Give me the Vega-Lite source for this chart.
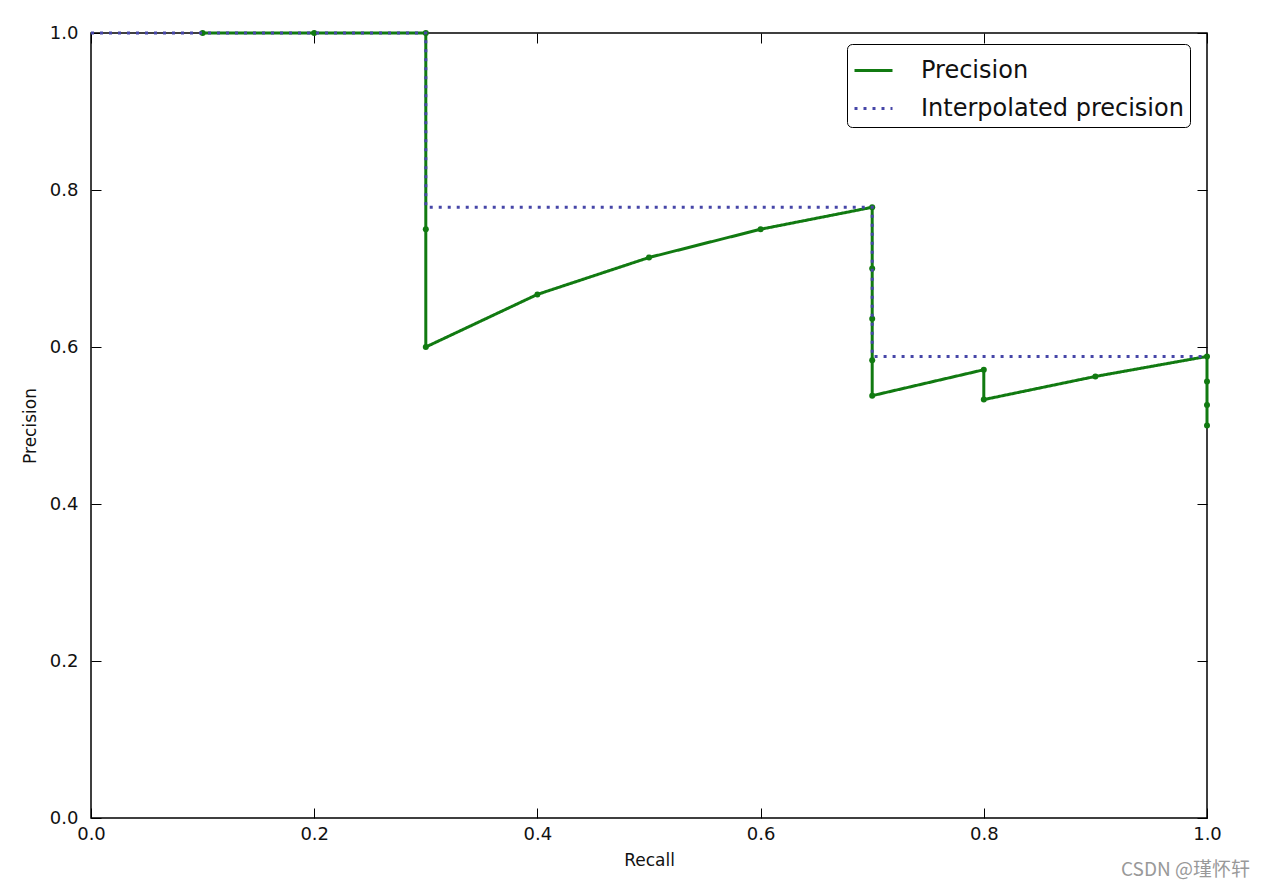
{
  "$schema": "https://vega.github.io/schema/vega-lite/v6.json",
  "width": 1116,
  "height": 785,
  "autosize": {"type": "none"},
  "padding": {"left": 91, "top": 33, "right": 59, "bottom": 70},
  "background": "white",
  "config": {
    "font": "DejaVu Sans",
    "view": {"stroke": "black", "strokeWidth": 1.5},
    "axis": {
      "domain": false,
      "grid": false,
      "tickSize": -10,
      "tickColor": "black",
      "tickWidth": 1,
      "labelFlush": false,
      "labelFontSize": 18,
      "labelColor": "#111",
      "titleFontSize": 17,
      "titleFontWeight": "normal",
      "titleColor": "#111"
    }
  },
  "title": {
    "text": "CSDN @瑾怀轩",
    "orient": "bottom",
    "anchor": "end",
    "frame": "group",
    "font": "Noto Sans CJK SC",
    "fontSize": 19,
    "fontWeight": "normal",
    "color": "#999999",
    "dx": 43,
    "offset": -7
  },
  "data": {
    "values": [
      {"series": "Precision", "k": 1, "recall": 0.1, "precision": 1.0},
      {"series": "Precision", "k": 2, "recall": 0.2, "precision": 1.0},
      {"series": "Precision", "k": 3, "recall": 0.3, "precision": 1.0},
      {"series": "Precision", "k": 4, "recall": 0.3, "precision": 0.75},
      {"series": "Precision", "k": 5, "recall": 0.3, "precision": 0.6},
      {"series": "Precision", "k": 6, "recall": 0.4, "precision": 0.667},
      {"series": "Precision", "k": 7, "recall": 0.5, "precision": 0.714},
      {"series": "Precision", "k": 8, "recall": 0.6, "precision": 0.75},
      {"series": "Precision", "k": 9, "recall": 0.7, "precision": 0.778},
      {"series": "Precision", "k": 10, "recall": 0.7, "precision": 0.7},
      {"series": "Precision", "k": 11, "recall": 0.7, "precision": 0.636},
      {"series": "Precision", "k": 12, "recall": 0.7, "precision": 0.583},
      {"series": "Precision", "k": 13, "recall": 0.7, "precision": 0.538},
      {"series": "Precision", "k": 14, "recall": 0.8, "precision": 0.571},
      {"series": "Precision", "k": 15, "recall": 0.8, "precision": 0.533},
      {"series": "Precision", "k": 16, "recall": 0.9, "precision": 0.5625},
      {"series": "Precision", "k": 17, "recall": 1.0, "precision": 0.588},
      {"series": "Precision", "k": 18, "recall": 1.0, "precision": 0.556},
      {"series": "Precision", "k": 19, "recall": 1.0, "precision": 0.526},
      {"series": "Precision", "k": 20, "recall": 1.0, "precision": 0.5},
      {"series": "Interpolated precision", "k": 1, "recall": 0.0, "precision": 1.0},
      {"series": "Interpolated precision", "k": 2, "recall": 0.1, "precision": 1.0},
      {"series": "Interpolated precision", "k": 3, "recall": 0.2, "precision": 1.0},
      {"series": "Interpolated precision", "k": 4, "recall": 0.3, "precision": 1.0},
      {"series": "Interpolated precision", "k": 5, "recall": 0.3, "precision": 0.778},
      {"series": "Interpolated precision", "k": 6, "recall": 0.4, "precision": 0.778},
      {"series": "Interpolated precision", "k": 7, "recall": 0.5, "precision": 0.778},
      {"series": "Interpolated precision", "k": 8, "recall": 0.6, "precision": 0.778},
      {"series": "Interpolated precision", "k": 9, "recall": 0.7, "precision": 0.778},
      {"series": "Interpolated precision", "k": 10, "recall": 0.7, "precision": 0.588},
      {"series": "Interpolated precision", "k": 11, "recall": 0.8, "precision": 0.588},
      {"series": "Interpolated precision", "k": 12, "recall": 0.9, "precision": 0.588},
      {"series": "Interpolated precision", "k": 13, "recall": 1.0, "precision": 0.588}
    ]
  },
  "layer": [
    {
      "transform": [{"filter": "datum.series === 'Precision'"}],
      "mark": {"type": "line", "strokeWidth": 3},
      "encoding": {
        "x": {"field": "recall", "type": "quantitative", "scale": {"domain": [0, 1], "nice": false}, "title": "Recall", "axis": {"orient": "bottom", "values": [0, 0.2, 0.4, 0.6, 0.8, 1.0], "format": ".1f", "labelPadding": 17, "titlePadding": 9}},
        "y": {"field": "precision", "type": "quantitative", "scale": {"domain": [0, 1], "nice": false}, "title": "Precision", "axis": {"orient": "left", "values": [0, 0.2, 0.4, 0.6, 0.8, 1.0], "format": ".1f", "labelPadding": 23, "titlePadding": 10}},
        "order": {"field": "k"},
        "color": {"field": "series", "type": "nominal", "scale": {"domain": ["Precision", "Interpolated precision"], "range": ["#117a11", "#4646a8"]}, "legend": {"title": null, "orient": "none", "legendX": 756, "legendY": 11, "padding": 6, "strokeColor": "black", "cornerRadius": 5, "fillColor": "white", "labelFontSize": 24, "labelColor": "#111", "labelLimit": 400, "symbolType": "stroke", "symbolSize": 1444, "symbolStrokeWidth": 3, "rowPadding": 5, "labelOffset": 27}},
        "strokeDash": {"field": "series", "type": "nominal", "scale": {"domain": ["Precision", "Interpolated precision"], "range": [[1, 0], [3, 6]]}, "legend": null}
      }
    },
    {
      "transform": [{"filter": "datum.series === 'Precision'"}],
      "mark": {"type": "point", "filled": true, "size": 36, "opacity": 1, "color": "#117a11"},
      "encoding": {
        "x": {"field": "recall", "type": "quantitative", "scale": {"domain": [0, 1], "nice": false}, "axis": {"orient": "top", "values": [0, 0.2, 0.4, 0.6, 0.8, 1.0], "labels": false, "title": null}},
        "y": {"field": "precision", "type": "quantitative", "scale": {"domain": [0, 1], "nice": false}, "axis": {"orient": "right", "values": [0, 0.2, 0.4, 0.6, 0.8, 1.0], "labels": false, "title": null}}
      }
    },
    {
      "transform": [{"filter": "datum.series === 'Interpolated precision'"}],
      "mark": {"type": "line", "strokeWidth": 3},
      "encoding": {
        "x": {"field": "recall", "type": "quantitative", "scale": {"domain": [0, 1], "nice": false}, "axis": null},
        "y": {"field": "precision", "type": "quantitative", "scale": {"domain": [0, 1], "nice": false}, "axis": null},
        "order": {"field": "k"},
        "color": {"field": "series", "type": "nominal"},
        "strokeDash": {"field": "series", "type": "nominal"}
      }
    }
  ],
  "resolve": {"axis": {"x": "independent", "y": "independent"}}
}
